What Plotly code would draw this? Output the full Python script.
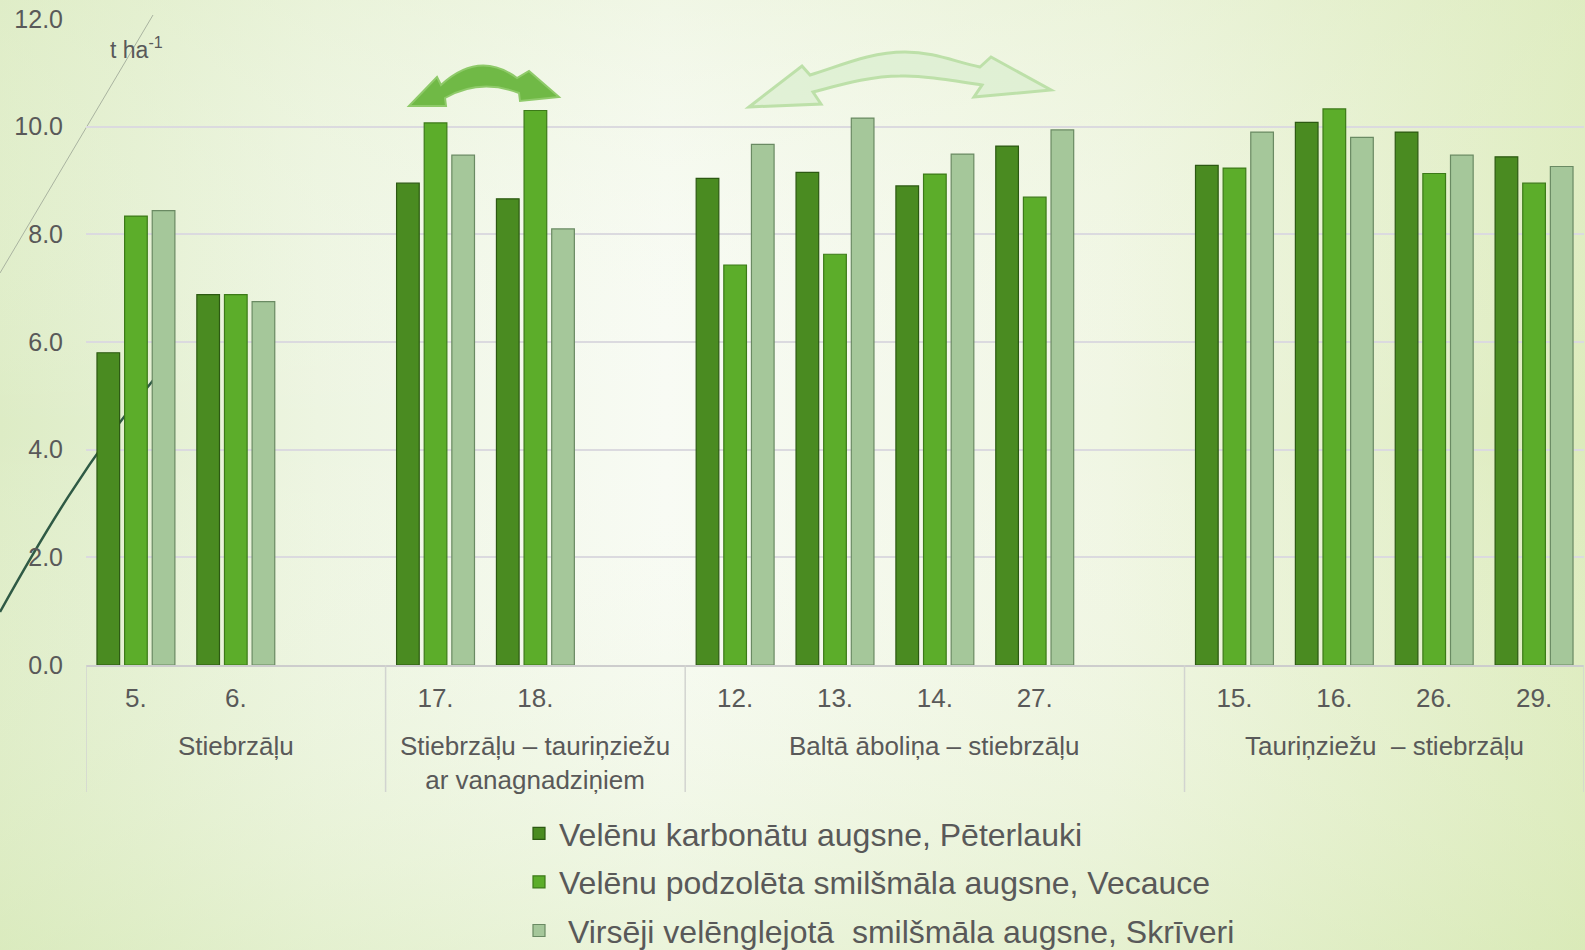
import base64
import plotly.graph_objects as go

# ---- data ----
group_names = [
    "Stiebrzāļu",
    "Stiebrzāļu – tauriņziežu<br>ar vanagnadziņiem",
    "Baltā āboliņa – stiebrzāļu",
    "Tauriņziežu\u00a0 – stiebrzāļu",
]
group_items = [
    ["5.", "6."],
    ["17.", "18."],
    ["12.", "13.", "14.", "27."],
    ["15.", "16.", "26.", "29."],
]
# empty slots after each group
group_gaps = [1, 1, 1, 0]

series_names = [
    "Velēnu karbonātu augsne, Pēterlauki",
    "Velēnu podzolēta smilšmāla augsne, Vecauce",
    "\u00a0Virsēji velēnglejotā\u00a0 smilšmāla augsne, Skrīveri",
]
peterlauki = [5.80, 6.88, 8.95, 8.66, 9.04, 9.15, 8.90, 9.64, 9.28, 10.08, 9.90, 9.44]
vecauce = [8.34, 6.88, 10.07, 10.30, 7.43, 7.63, 9.12, 8.69, 9.23, 10.33, 9.13, 8.95]
skriveri = [8.44, 6.75, 9.47, 8.10, 9.67, 10.16, 9.49, 9.94, 9.90, 9.80, 9.47, 9.26]

colors = ["#4a8b21", "#5cad2a", "#a5c79a"]
edge_colors = ["#2c5912", "#3c7a18", "#6a8a63"]

# ---- layout geometry ----
W, H = 1585, 950
L, R, T, B = 86, 1, 19, 285
PW, PH = W - L - R, H - T - B
TXT = "#595959"
FONT = "Liberation Sans, Arial, sans-serif"


def paper(x, y):
    return (x - L) / PW, 1 - (y - T) / PH


def svg_path(cmds, close=True):
    out = []
    for c, pts in cmds:
        out.append(c + " ".join("%.5f,%.5f" % paper(x, y) for x, y in pts))
    return " ".join(out) + (" Z" if close else "")


# slot positions on the linear x axis
x_pos, tick_text, spans = [], [], []
slot = 0
for items, gap in zip(group_items, group_gaps):
    start = slot
    for it in items:
        x_pos.append(slot)
        tick_text.append(it)
        slot += 1
    slot += gap
    spans.append((start - 0.5, slot - 0.5))

fig = go.Figure()
for name, vals, col, ecol in zip(series_names, [peterlauki, vecauce, skriveri], colors, edge_colors):
    fig.add_trace(go.Bar(
        x=x_pos, y=vals, name=name, legendgroup=name,
        marker=dict(color=col, line=dict(color=ecol, width=1.2)),
    ))

# background gradient as an inline svg
bg_svg = """<svg xmlns="http://www.w3.org/2000/svg" width="1585" height="950" viewBox="0 0 1585 950" preserveAspectRatio="none">
<defs>
<linearGradient id="h" x1="0" y1="0" x2="1" y2="0">
<stop offset="0" stop-color="#ddecc5"/>
<stop offset="0.2" stop-color="#edf5e1"/>
<stop offset="0.42" stop-color="#f8fbf4"/>
<stop offset="0.7" stop-color="#f0f6e3"/>
<stop offset="1" stop-color="#dcebbb"/>
</linearGradient>
<linearGradient id="v" x1="0" y1="0" x2="0" y2="1">
<stop offset="0" stop-color="#e3efcc" stop-opacity="0.35"/>
<stop offset="0.45" stop-color="#ffffff" stop-opacity="0"/>
<stop offset="1" stop-color="#d6e9b4" stop-opacity="0.4"/>
</linearGradient>
</defs>
<rect width="1585" height="950" fill="url(#h)"/>
<rect width="1585" height="950" fill="url(#v)"/>
</svg>"""
bg_src = "data:image/svg+xml;base64," + base64.b64encode(bg_svg.encode()).decode()
x0, y0 = paper(0, 0)
fig.add_layout_image(dict(
    source=bg_src, xref="paper", yref="paper", x=x0, y=y0,
    sizex=W / PW, sizey=H / PH, sizing="stretch", layer="below",
    xanchor="left", yanchor="top",
))

shapes = []
# decorative slide lines on the left
gx0, gy0 = paper(153, 15)
gx1, gy1 = paper(0, 273)
shapes.append(dict(type="line", xref="paper", yref="paper", x0=gx0, y0=gy0, x1=gx1, y1=gy1,
                   line=dict(color="#a9b3a0", width=1), layer="below"))
shapes.append(dict(type="path", xref="paper", yref="paper", layer="below",
                   path=svg_path([("M", [(0, 612)]), ("C", [(40, 540), (90, 455), (155, 378)])], close=False),
                   line=dict(color="#2f5a45", width=2.5)))

# curved double arrows
arrow1 = [("M", [(409, 106)]), ("L", [(437, 77)]), ("L", [(441, 85)]),
          ("Q", [(479, 50), (517, 78)]), ("L", [(529, 71)]), ("L", [(559, 97)]),
          ("L", [(520, 101)]), ("L", [(519, 93)]), ("Q", [(480, 78), (445, 98)]),
          ("L", [(446, 106)])]
shapes.append(dict(type="path", xref="paper", yref="paper", path=svg_path(arrow1),
                   fillcolor="#70b946", line=dict(color="#8fca6a", width=2)))
arrow2 = [("M", [(749, 107)]), ("L", [(802, 66)]), ("L", [(810, 75)]),
          ("C", [(840, 66), (870, 52), (905, 52)]), ("C", [(935, 52), (955, 62), (980, 67)]),
          ("L", [(991, 57)]), ("L", [(1051, 90)]), ("L", [(974, 97)]), ("L", [(982, 85)]),
          ("C", [(950, 80), (920, 75), (900, 76)]), ("C", [(870, 76), (840, 85), (813, 92)]),
          ("L", [(821, 104)])]
shapes.append(dict(type="path", xref="paper", yref="paper", path=svg_path(arrow2),
                   fillcolor="rgba(220,239,209,0.8)", line=dict(color="#bde0a9", width=3)))

# group dividers under the axis
_, div_bottom = paper(0, 792)
edges = sorted(set([s for s, e in spans] + [e for s, e in spans]))
for xe in edges:
    shapes.append(dict(type="line", xref="x", yref="paper", x0=xe, x1=xe, y0=0, y1=div_bottom,
                       line=dict(color="#d2d4d0", width=1.5)))

annotations = []
for name, (s, e) in zip(group_names, spans):
    annotations.append(dict(
        x=(s + e) / 2, y=0, xref="x", yref="paper", text=name, showarrow=False,
        yanchor="top", yshift=-64, font=dict(family=FONT, size=26, color=TXT),
    ))
ux, uy = paper(108, 48)
annotations.append(dict(
    x=ux, y=uy, xref="paper", yref="paper", text="t ha<sup>-1</sup>", showarrow=False,
    xanchor="left", yanchor="middle", font=dict(family=FONT, size=23, color=TXT),
))
fig.update_layout(shapes=shapes, annotations=annotations)

lx, ly = paper(519, 806)
fig.update_layout(
    width=W, height=H,
    margin=dict(l=L, r=R, t=T, b=B, autoexpand=False),
    paper_bgcolor="#eef5e2",
    plot_bgcolor="rgba(0,0,0,0)",
    font=dict(family=FONT, color=TXT),
    barmode="group", bargap=0.17, bargroupgap=0.18,
    showlegend=True,
    legend=dict(
        x=lx, y=ly, xanchor="left", yanchor="top",
        font=dict(family=FONT, size=32, color=TXT),
        bgcolor="rgba(0,0,0,0)", tracegroupgap=4,
    ),
    xaxis=dict(
        range=[-0.5, spans[-1][1]], tickvals=x_pos, ticktext=tick_text,
        tickfont=dict(family=FONT, size=26, color=TXT), ticks="",
        ticklabelstandoff=9,
        showgrid=False, zeroline=False,
        showline=True, linecolor="#cdcdcd", linewidth=2,
    ),
    yaxis=dict(
        range=[0, 12], dtick=2, tickformat=".1f",
        tickfont=dict(family=FONT, size=25, color=TXT), ticks="",
        ticklabelstandoff=22,
        showgrid=True, gridcolor="#dbdadf", gridwidth=1.5,
        zeroline=False, showline=False,
    ),
    hovermode=False,
)

fig.write_html(
    "out.html",
    config={"displayModeBar": False},
    post_script="document.body.style.margin='0';document.body.style.overflow='hidden';",
)
